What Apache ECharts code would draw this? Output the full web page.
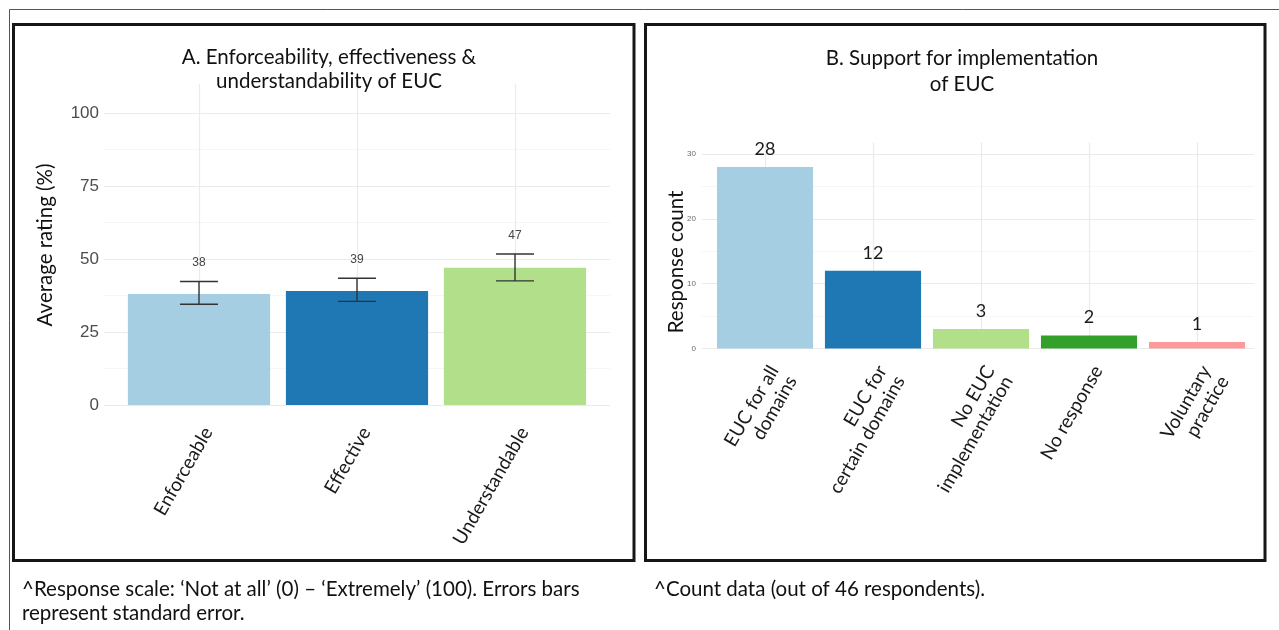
<!DOCTYPE html>
<html>
<head>
<meta charset="utf-8">
<script src="https://cdn.jsdelivr.net/npm/echarts@6/dist/echarts.min.js"></script>
<style>
  html, body { margin: 0; padding: 0; background: #ffffff; }
  #chart { width: 1279px; height: 630px; }
</style>
</head>
<body>
<div id="chart"></div>
<script>
// Panel A: average ratings with standard-error bars
const catsA = ['Enforceable', 'Effective', 'Understandable'];
const ratingA = [38, 39, 47];
const seLowA = [34.5, 35.5, 42.5];
const seHighA = [42.3, 43.4, 51.7];

// Panel B: support for implementation (counts)
const catsB = ['EUC for all\ndomains', 'EUC for\ncertain domains', 'No EUC\nimplementation', 'No response', 'Voluntary\npractice'];
const countB = [28, 12, 3, 2, 1];

const colorsA = ['#a6cee3', '#1f78b4', '#b2df8a'];
const colorsB = ['#a6cee3', '#1f78b4', '#b2df8a', '#33a02c', '#fb9a99'];

const FONT = 'Lato, "Open Sans", sans-serif';
const TICKFONT = '"Liberation Sans", Arial, sans-serif';
const GRID_MAJOR = '#ebebeb';
const GRID_MINOR = '#f4f4f4';

const chart = echarts.init(document.getElementById('chart'), null, { renderer: 'canvas' });

// category axis whose inward ticks act as vertical grid lines at the category centres
function catAxis(gridIndex, data, tickLen, fontSize, margin) {
  return {
    type: 'category', gridIndex: gridIndex, data: data,
    axisLine: { show: false },
    axisTick: { show: true, alignWithLabel: true, inside: true, length: tickLen,
                lineStyle: { color: GRID_MAJOR, width: 1.2 } },
    splitLine: { show: false },
    axisLabel: { rotate: 60, fontSize: fontSize, color: '#1a1a1a', fontFamily: FONT,
                 margin: margin, lineHeight: fontSize * 1.1, interval: 0,
                 align: 'right', verticalAlign: 'top' }
  };
}

function valueAxisGridlines(gridIndex, max, interval, labelSize, labelColor, margin) {
  return {
    type: 'value', gridIndex: gridIndex, min: 0, max: max, interval: interval,
    axisLine: { show: false }, axisTick: { show: false },
    axisLabel: { fontSize: labelSize, color: labelColor, fontFamily: TICKFONT, margin: margin },
    splitLine: { show: true, lineStyle: { color: GRID_MAJOR, width: 1.2 } },
    minorTick: { show: false, splitNumber: 2 },
    minorSplitLine: { show: true, lineStyle: { color: GRID_MINOR, width: 0.8 } }
  };
}

const hidden = (gridIndex, extra) => Object.assign({ type: 'value', gridIndex: gridIndex, show: false }, extra || {});

const option = {
  animation: false,
  backgroundColor: '#ffffff',
  title: [
    {
      text: 'A. Enforceability, effectiveness &\nunderstandability of EUC',
      left: 324, top: 40, textAlign: 'center',
      textStyle: { fontFamily: FONT, fontWeight: 'normal', fontSize: 20.5, lineHeight: 24, color: '#111' }
    },
    {
      text: 'B. Support for implementation\nof EUC',
      left: 957, top: 40, textAlign: 'center',
      textStyle: { fontFamily: FONT, fontWeight: 'normal', fontSize: 20.5, lineHeight: 26, color: '#111' }
    }
  ],
  grid: [
    { left: 104, top: 113, width: 506, height: 292 },     // A: horizontal grid lines, y labels
    { left: 120, top: 98.4, width: 474, height: 321.2 },  // A: bars, categories
    { left: 702, top: 154, width: 552, height: 194.5 },   // B: horizontal grid lines, y labels
    { left: 711, top: 154, width: 540, height: 206 }      // B: bars, categories
  ],
  xAxis: [
    hidden(0, { min: 0, max: 1 }),
    catAxis(1, catsA, 321.2, 19, 4),
    hidden(2, { min: 0, max: 1 }),
    catAxis(3, catsB, 206, 19, 2)
  ],
  yAxis: [
    valueAxisGridlines(0, 100, 25, 17, '#4d4d4d', 5),
    hidden(1, { min: -5, max: 105 }),
    valueAxisGridlines(2, 30, 10, 8, '#6b6b6b', 6),
    hidden(3, { min: -1.774, max: 30 })
  ],
  series: [
    {
      type: 'bar', xAxisIndex: 1, yAxisIndex: 1, barWidth: '90%',
      data: ratingA.map((v, i) => ({ value: v, itemStyle: { color: colorsA[i] } }))
    },
    {
      type: 'custom', xAxisIndex: 1, yAxisIndex: 1, z: 5,
      data: catsA.map((c, i) => [i, seLowA[i], seHighA[i], ratingA[i]]),
      renderItem: function (params, api) {
        const pLo = api.coord([api.value(0), api.value(1)]);
        const pHi = api.coord([api.value(0), api.value(2)]);
        const hw = api.size([1, 0])[0] * 0.12;
        const st = { stroke: '#333333', lineWidth: 1.4 };
        return {
          type: 'group',
          children: [
            { type: 'line', shape: { x1: pLo[0], y1: pLo[1], x2: pHi[0], y2: pHi[1] }, style: st },
            { type: 'line', shape: { x1: pHi[0] - hw, y1: pHi[1], x2: pHi[0] + hw, y2: pHi[1] }, style: st },
            { type: 'line', shape: { x1: pLo[0] - hw, y1: pLo[1], x2: pLo[0] + hw, y2: pLo[1] }, style: st },
            { type: 'text', x: pHi[0], y: pHi[1] - 18.5,
              style: { text: String(api.value(3)), fontSize: 12, fontFamily: TICKFONT, fill: '#444',
                       align: 'center', verticalAlign: 'middle' } }
          ]
        };
      }
    },
    {
      type: 'bar', xAxisIndex: 3, yAxisIndex: 3, barWidth: '89%',
      data: countB.map((v, i) => ({ value: v, itemStyle: { color: colorsB[i] } })),
      label: { show: true, position: 'top', distance: 9, fontSize: 18, fontFamily: FONT, color: '#1a1a1a' }
    }
  ],
  graphic: [
    { type: 'rect', z: 10, shape: { x: 9.5, y: 9.5, width: 1300, height: 700 },
      style: { fill: 'none', stroke: '#555', lineWidth: 1 } },
    { type: 'rect', z: 10, shape: { x: 13.5, y: 24.5, width: 620.5, height: 536 },
      style: { fill: 'none', stroke: '#161616', lineWidth: 3 } },
    { type: 'rect', z: 10, shape: { x: 645.5, y: 24.5, width: 619.5, height: 536 },
      style: { fill: 'none', stroke: '#161616', lineWidth: 3 } },
    { type: 'text', z: 10, x: 45, y: 245, rotation: Math.PI / 2,
      style: { text: 'Average rating (%)', fontSize: 20.5, fontFamily: FONT, fill: '#111',
               align: 'center', verticalAlign: 'middle' } },
    { type: 'text', z: 10, x: 676, y: 262, rotation: Math.PI / 2,
      style: { text: 'Response count', fontSize: 20.5, fontFamily: FONT, fill: '#111',
               align: 'center', verticalAlign: 'middle' } },
    { type: 'text', z: 10, x: 22, y: 589,
      style: { text: '^Response scale: \u2018Not at all\u2019 (0) \u2013 \u2018Extremely\u2019 (100). Errors bars',
               fontSize: 20.5, fontFamily: FONT, fill: '#111', verticalAlign: 'middle' } },
    { type: 'text', z: 10, x: 22, y: 613,
      style: { text: 'represent standard error.', fontSize: 20.5, fontFamily: FONT, fill: '#111', verticalAlign: 'middle' } },
    { type: 'text', z: 10, x: 654, y: 589,
      style: { text: '^Count data (out of 46 respondents).', fontSize: 20.5, fontFamily: FONT, fill: '#111', verticalAlign: 'middle' } }
  ]
};

chart.setOption(option);
</script>
</body>
</html>
